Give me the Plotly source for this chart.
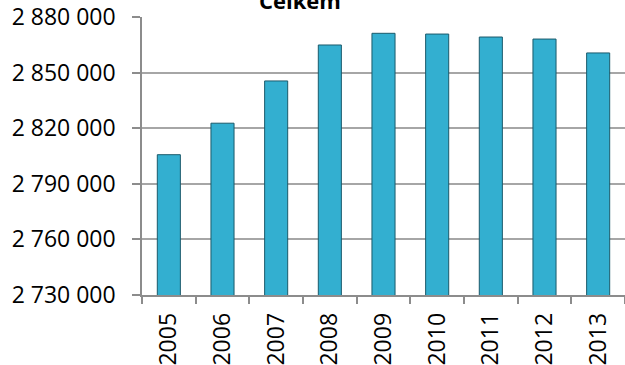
import plotly.graph_objects as go

years = ["2005", "2006", "2007", "2008", "2009", "2010", "2011", "2012", "2013"]
values = [2805700, 2822700, 2845500, 2864900, 2871200, 2870800, 2869200, 2868100, 2860600]
y_ticks = [2730000, 2760000, 2790000, 2820000, 2850000, 2880000]
title_text = "Celkem"

fig = go.Figure(
    go.Bar(
        x=years,
        y=values,
        width=0.43,
        marker=dict(color="#33AFD0", line=dict(color="#1B5A6B", width=1)),
    )
)

fig.update_layout(
    width=625,
    height=365,
    margin=dict(l=142, r=0, t=17, b=70),
    paper_bgcolor="white",
    plot_bgcolor="white",
    separators=". ",
    showlegend=False,
    font=dict(family="Open Sans", size=23, color="black"),
    annotations=[
        dict(
            text="<b>" + title_text + "</b>",
            x=(300 - 142) / (625 - 142),
            xref="paper",
            y=1,
            yref="paper",
            xanchor="center",
            yanchor="bottom",
            yshift=0,
            showarrow=False,
            font=dict(family="Open Sans", size=22, color="black"),
        )
    ],
)

fig.update_yaxes(
    range=[2730000, 2880000],
    tickvals=y_ticks,
    tickformat=",d",
    showgrid=True,
    gridcolor="#A6A6A6",
    gridwidth=1.5,
    showline=True,
    linecolor="#8C8C8C",
    linewidth=1.5,
    ticks="outside",
    ticklen=8,
    tickcolor="#8C8C8C",
    tickwidth=1.5,
    ticklabelstandoff=12,
    ticklabeloverflow="allow",
    zeroline=False,
    automargin=False,
)

fig.update_xaxes(
    type="category",
    showline=True,
    linecolor="#8C8C8C",
    linewidth=1.5,
    ticks="outside",
    ticklen=7,
    tickcolor="#8C8C8C",
    tickwidth=1.5,
    tickson="boundaries",
    tickangle=-90,
    ticklabelstandoff=7,
    ticklabeloverflow="allow",
    showgrid=False,
    automargin=False,
)

fig.write_html(
    "out.html",
    config={"displayModeBar": False},
    post_script="document.body.style.margin='0';",
)
